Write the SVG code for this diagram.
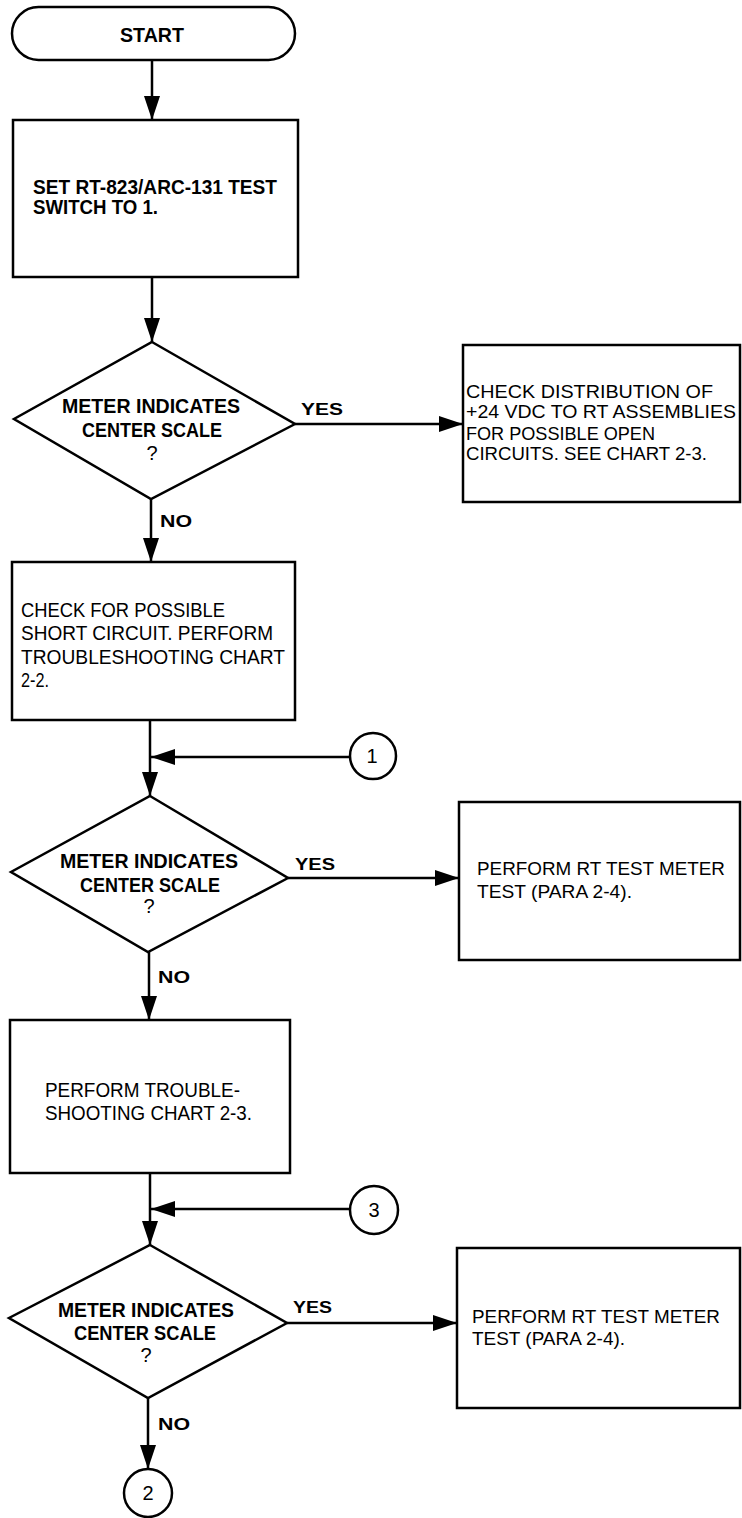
<svg xmlns="http://www.w3.org/2000/svg" width="742" height="1518" viewBox="0 0 742 1518">
<defs>
<marker id="ah" viewBox="0 0 24 16" refX="24" refY="8" markerWidth="24" markerHeight="16" markerUnits="userSpaceOnUse" orient="auto">
<path d="M0,0 L24,8 L0,16 Z" fill="#000"/>
</marker>
</defs>
<style>
.s{fill:#fff;stroke:#000;stroke-width:2.5}
.c{fill:none;stroke:#000;stroke-width:2.5}
.b{font-family:"Liberation Sans",Arial,sans-serif;font-weight:bold;font-size:20px;fill:#000}
.n{font-family:"Liberation Sans",Arial,sans-serif;font-size:21px;fill:#000}
.r{font-family:"Liberation Sans",Arial,sans-serif;font-size:19px;fill:#000}
.l{font-family:"Liberation Sans",Arial,sans-serif;font-weight:bold;font-size:17px;fill:#000}
.m{text-anchor:middle}
.d{font-family:"Liberation Sans",Arial,sans-serif;font-size:20px;fill:#000;text-anchor:middle}
</style>
<rect width="742" height="1518" fill="#fff"/>
<g id="connectors">
<line class="c" x1="152" y1="60" x2="152" y2="120" marker-end="url(#ah)"/>
<line class="c" x1="152" y1="277" x2="152" y2="342" marker-end="url(#ah)"/>
<line class="c" x1="295" y1="424" x2="463" y2="424" marker-end="url(#ah)"/>
<line class="c" x1="151" y1="499" x2="151" y2="562" marker-end="url(#ah)"/>
<line class="c" x1="150" y1="720" x2="150" y2="796" marker-end="url(#ah)"/>
<line class="c" x1="350" y1="757" x2="151" y2="757" marker-end="url(#ah)"/>
<line class="c" x1="288" y1="878" x2="459" y2="878" marker-end="url(#ah)"/>
<line class="c" x1="149" y1="952" x2="149" y2="1020" marker-end="url(#ah)"/>
<line class="c" x1="150" y1="1173" x2="150" y2="1245" marker-end="url(#ah)"/>
<line class="c" x1="350" y1="1209" x2="151" y2="1209" marker-end="url(#ah)"/>
<line class="c" x1="287" y1="1323" x2="457" y2="1323" marker-end="url(#ah)"/>
<line class="c" x1="148" y1="1398" x2="148" y2="1469" marker-end="url(#ah)"/>
<text class="l" x="301" y="415" textLength="42" lengthAdjust="spacingAndGlyphs">YES</text>
<text class="l" x="295" y="870" textLength="40" lengthAdjust="spacingAndGlyphs">YES</text>
<text class="l" x="293" y="1313" textLength="39" lengthAdjust="spacingAndGlyphs">YES</text>
<text class="l" x="160" y="527" textLength="32" lengthAdjust="spacingAndGlyphs">NO</text>
<text class="l" x="158" y="983" textLength="32" lengthAdjust="spacingAndGlyphs">NO</text>
<text class="l" x="158" y="1430" textLength="32" lengthAdjust="spacingAndGlyphs">NO</text>
</g>
<g id="start">
<rect class="s" x="12" y="7" width="283" height="53" rx="26.5" ry="26.5"/>
<text class="b m" x="152" y="42" font-size="19" textLength="64" lengthAdjust="spacingAndGlyphs">START</text>
</g>
<g id="set-switch">
<rect class="s" x="13" y="120" width="285" height="157"/>
<text class="b" x="33" y="194" font-size="18" textLength="244" lengthAdjust="spacingAndGlyphs">SET RT-823/ARC-131 TEST</text>
<text class="b" x="33" y="214" font-size="18" textLength="125" lengthAdjust="spacingAndGlyphs">SWITCH TO 1.</text>
</g>
<g id="decision1">
<polygon class="s" points="152,342 295,424 151,499 14,419"/>
<text class="b m" x="151" y="413" textLength="178" lengthAdjust="spacingAndGlyphs">METER INDICATES</text>
<text class="b m" x="152" y="437" textLength="140" lengthAdjust="spacingAndGlyphs">CENTER SCALE</text>
<text class="d" x="152" y="460" font-size="16">?</text>
</g>
<g id="check-distribution">
<rect class="s" x="463" y="345" width="277" height="157"/>
<text class="r" x="466" y="398" textLength="247" lengthAdjust="spacingAndGlyphs">CHECK DISTRIBUTION OF</text>
<text class="r" x="466" y="418" textLength="270" lengthAdjust="spacingAndGlyphs">+24 VDC TO RT ASSEMBLIES</text>
<text class="r" x="466" y="440" textLength="189" lengthAdjust="spacingAndGlyphs">FOR POSSIBLE OPEN</text>
<text class="r" x="466" y="460" textLength="241" lengthAdjust="spacingAndGlyphs">CIRCUITS. SEE CHART 2-3.</text>
</g>
<g id="check-short">
<rect class="s" x="12" y="562" width="283" height="158"/>
<text class="n" x="21" y="617" textLength="204" lengthAdjust="spacingAndGlyphs">CHECK  FOR  POSSIBLE</text>
<text class="n" x="21" y="640" textLength="252" lengthAdjust="spacingAndGlyphs">SHORT   CIRCUIT.   PERFORM</text>
<text class="n" x="21" y="664" textLength="264" lengthAdjust="spacingAndGlyphs">TROUBLESHOOTING    CHART</text>
<text class="n" x="21" y="687" textLength="28" lengthAdjust="spacingAndGlyphs">2-2.</text>
</g>
<g id="connector1">
<circle class="s" cx="373" cy="756" r="23"/>
<text class="d" x="372" y="763">1</text>
</g>
<g id="decision2">
<polygon class="s" points="150,796 288,878 148,952 11,872"/>
<text class="b m" x="149" y="868" textLength="178" lengthAdjust="spacingAndGlyphs">METER INDICATES</text>
<text class="b m" x="150" y="892" textLength="140" lengthAdjust="spacingAndGlyphs">CENTER SCALE</text>
<text class="d" x="149" y="913" font-size="16">?</text>
</g>
<g id="meter-test1">
<rect class="s" x="459" y="802" width="281" height="158"/>
<text class="r" x="477" y="875" textLength="248" lengthAdjust="spacingAndGlyphs">PERFORM RT TEST METER</text>
<text class="r" x="477" y="898" textLength="155" lengthAdjust="spacingAndGlyphs">TEST (PARA 2-4).</text>
</g>
<g id="perform-chart">
<rect class="s" x="10" y="1020" width="280" height="153"/>
<text class="n" x="45" y="1097" textLength="195" lengthAdjust="spacingAndGlyphs">PERFORM  TROUBLE-</text>
<text class="n" x="45" y="1120" textLength="207" lengthAdjust="spacingAndGlyphs">SHOOTING  CHART  2-3.</text>
</g>
<g id="connector3">
<circle class="s" cx="374" cy="1210" r="24"/>
<text class="d" x="374" y="1217">3</text>
</g>
<g id="decision3">
<polygon class="s" points="150,1245 287,1323 148,1398 9,1318"/>
<text class="b m" x="146" y="1317" textLength="176" lengthAdjust="spacingAndGlyphs">METER INDICATES</text>
<text class="b m" x="145" y="1340" textLength="142" lengthAdjust="spacingAndGlyphs">CENTER SCALE</text>
<text class="d" x="146" y="1362" font-size="16">?</text>
</g>
<g id="meter-test2">
<rect class="s" x="457" y="1248" width="283" height="160"/>
<text class="r" x="472" y="1323" textLength="248" lengthAdjust="spacingAndGlyphs">PERFORM RT TEST METER</text>
<text class="r" x="472" y="1345" textLength="153" lengthAdjust="spacingAndGlyphs">TEST (PARA 2-4).</text>
</g>
<g id="connector2">
<circle class="s" cx="148" cy="1493" r="24"/>
<text class="d" x="148" y="1500">2</text>
</g>
</svg>
